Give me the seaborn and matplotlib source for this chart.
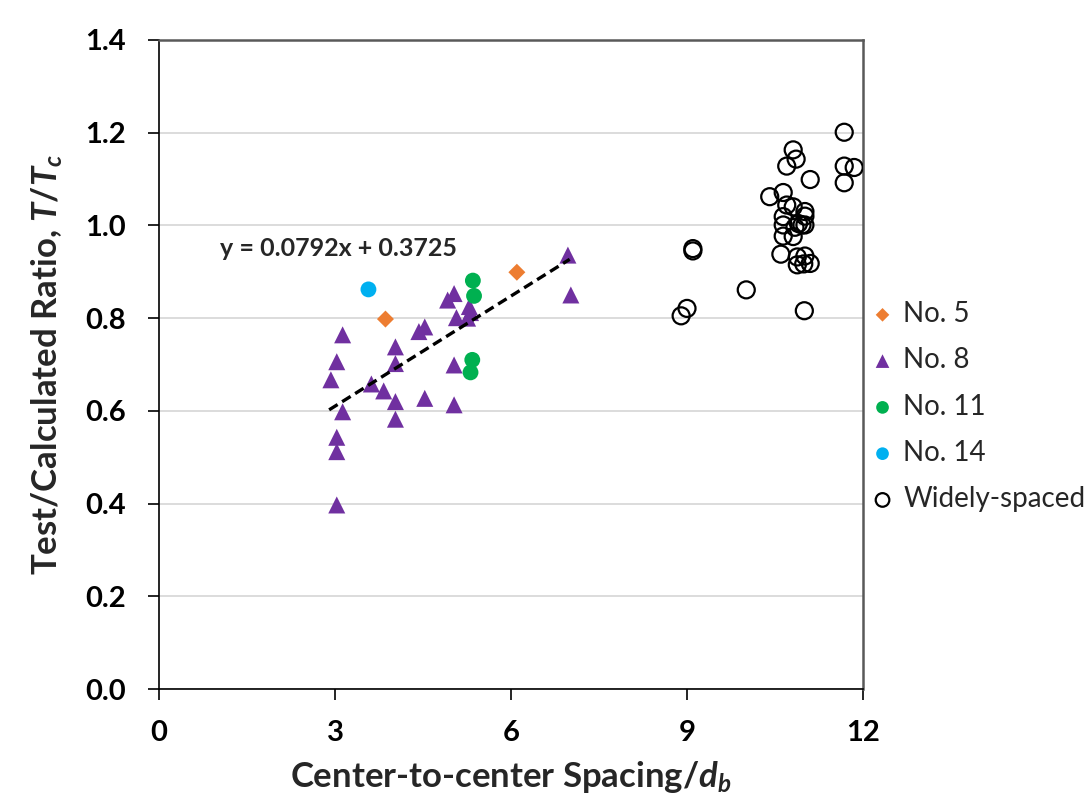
import numpy as np
import pandas as pd
import matplotlib
matplotlib.use("Agg")
import matplotlib.pyplot as plt
import seaborn as sns

sns.set_style("white")
plt.rcParams["font.family"] = ["Lato", "DejaVu Sans"]
plt.rcParams["mathtext.fontset"] = "custom"
plt.rcParams["mathtext.it"] = "Lato:bold:italic"
plt.rcParams["mathtext.rm"] = "Lato:bold"
plt.rcParams["mathtext.bf"] = "Lato:bold"

# No. 5 bars
no5_x = [3.86, 6.10]
no5_y = [0.798, 0.899]

# No. 8 bars
no8_x = [6.97, 7.02, 3.13, 3.03, 2.93, 3.13, 3.03, 3.03, 3.03, 3.62, 3.83, 4.03, 4.03,
         4.03, 4.03, 4.43, 4.53, 4.53, 4.92, 5.03, 5.07, 5.03, 5.03, 5.29, 5.26, 5.31]
no8_y = [0.936, 0.850, 0.764, 0.706, 0.667, 0.598, 0.543, 0.512, 0.397, 0.658, 0.643, 0.738, 0.702,
         0.620, 0.582, 0.771, 0.781, 0.627, 0.839, 0.853, 0.801, 0.699, 0.613, 0.825, 0.800, 0.812]

# No. 11 bars
no11_x = [5.35, 5.37, 5.34, 5.31]
no11_y = [0.881, 0.848, 0.710, 0.683]

# No. 14 bars
no14_x = [3.57]
no14_y = [0.862]

# widely-spaced bars
wide_x = [11.68, 10.81, 10.86, 10.70, 11.68, 11.85, 11.68, 11.10, 10.41, 10.64, 10.70, 10.81,
          11.01, 11.01, 10.64, 10.64, 10.90, 10.96, 11.01, 10.84, 10.64, 10.81, 10.60, 10.88,
          11.01, 10.88, 10.99, 11.10, 10.01, 11.00, 9.10, 9.10, 9.00, 8.90]
wide_y = [1.201, 1.163, 1.143, 1.128, 1.128, 1.125, 1.092, 1.099, 1.062, 1.071, 1.044, 1.040,
          1.030, 1.020, 1.019, 1.001, 1.004, 1.001, 1.001, 0.996, 0.977, 0.976, 0.938, 0.932,
          0.934, 0.915, 0.917, 0.918, 0.861, 0.816, 0.950, 0.945, 0.821, 0.805]

# linear trend on closely spaced bars
slope = 0.0792
intercept = 0.3725
fit_x = np.array([2.9, 7.0])
fit_y = slope * fit_x + intercept

fig = plt.figure(figsize=(10.89, 8.09), dpi=100)
ax = fig.add_axes([159 / 1089, 1 - 689 / 809, (863 - 159) / 1089, (689 - 40) / 809])

ax.yaxis.grid(True, color="#D9D9D9", linewidth=1.3, zorder=0)
ax.xaxis.grid(False)
ax.set_axisbelow(True)

sns.lineplot(x=fit_x, y=fit_y, ax=ax, color="black", linestyle=(0, (3, 1.6)),
             linewidth=2.4, zorder=5)

sns.scatterplot(x=no5_x, y=no5_y, ax=ax, marker="D", s=75, color="#ED7D31",
                edgecolor="none", label="No. 5", zorder=3)
sns.scatterplot(x=no8_x, y=no8_y, ax=ax, marker="^", s=150, color="#7030A0",
                edgecolor="none", label="No. 8", zorder=3)
sns.scatterplot(x=no11_x, y=no11_y, ax=ax, marker="o", s=130, color="#00B050",
                edgecolor="none", label="No. 11", zorder=3)
sns.scatterplot(x=no14_x, y=no14_y, ax=ax, marker="o", s=130, color="#00B0F0",
                edgecolor="none", label="No. 14", zorder=3)
sns.scatterplot(x=wide_x, y=wide_y, ax=ax, marker="o", s=150, facecolor="none",
                edgecolor="black", linewidth=1.6, label="Widely-spaced", zorder=3)

ax.text(1.04, 0.951, "y = 0.0792x + 0.3725", fontsize=18, fontweight="bold",
        ha="left", va="center")

ax.set_xlim(0, 12)
ax.set_ylim(0, 1.4)
ax.set_xticks([0, 3, 6, 9, 12])
ax.set_yticks(np.arange(0, 1.41, 0.2))
ax.set_yticklabels([f"{v:.1f}" for v in np.arange(0, 1.41, 0.2)])
ax.tick_params(axis="both", direction="out", length=8, width=1.2, labelsize=21,
               colors="black", bottom=True, left=True)
ax.tick_params(axis="y", pad=16)
ax.tick_params(axis="x", pad=14)
for lab in ax.get_xticklabels() + ax.get_yticklabels():
    lab.set_fontweight("bold")

for side in ["left", "bottom"]:
    ax.spines[side].set_color("black")
    ax.spines[side].set_linewidth(1.2)
for side in ["top", "right"]:
    ax.spines[side].set_color("#595959")
    ax.spines[side].set_linewidth(1.8)

ax.set_xlabel("Center-to-center Spacing/$d_b$", fontsize=25, fontweight="bold", labelpad=10)
ax.set_ylabel("Test/Calculated Ratio, $T/T_c$", fontsize=25, fontweight="bold", labelpad=14)

leg = ax.legend(loc="center left", bbox_to_anchor=(1.008, 0.435), frameon=False,
                fontsize=20, handlelength=1.0, handletextpad=0.25, labelspacing=0.73,
                borderaxespad=0, borderpad=0, markerscale=0.8)

fig.savefig("out.png", dpi=100)
